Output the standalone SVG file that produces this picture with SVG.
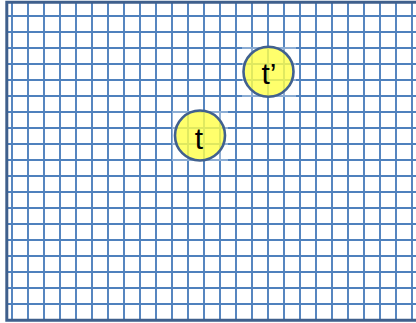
<svg xmlns="http://www.w3.org/2000/svg" width="416" height="323" viewBox="0 0 416 323">
  <style>
    .grid { stroke: #4F81BD; stroke-width: 1.9; fill: none; }
    .frame { stroke: #3F5F8C; stroke-width: 3; fill: none; }
    .halo { fill: #FFFFFF; fill-opacity: 0.35; }
    .node circle { fill: #FFFF33; fill-opacity: 0.72; stroke: #41618F; stroke-width: 2.6; }
    .node text { font-family: "Liberation Sans", Arial, sans-serif; font-size: 30px; fill: #000000; text-anchor: middle; }
  </style>
  <rect x="0" y="0" width="416" height="323" fill="#FFFFFF"/>
  <g id="grid">
    <path class="grid" d="M12 2V320M28 2V320M44 2V320M60 2V320M76 2V320M92 2V320M108 2V320M124 2V320M140 2V320M156 2V320M172 2V320M188 2V320M204 2V320M220 2V320M236 2V320M252 2V320M268 2V320M284 2V320M300 2V320M316 2V320M332 2V320M348 2V320M364 2V320M380 2V320M396 2V320M412 2V320"/>
    <path class="grid" d="M6 16H416M6 32H416M6 48H416M6 64H416M6 80H416M6 96H416M6 112H416M6 128H416M6 144H416M6 160H416M6 176H416M6 192H416M6 208H416M6 224H416M6 240H416M6 256H416M6 272H416M6 288H416M6 304H416"/>
    <path class="frame" d="M420 2.2H6.8V320.3H420"/>
  </g>
  <g id="node-t" class="node">
    <rect class="halo" x="172" y="111" width="56" height="50"/>
    <circle cx="200" cy="135.5" r="25"/>
    <text x="199" y="149">t</text>
  </g>
  <g id="node-t-prime" class="node">
    <rect class="halo" x="242" y="47" width="54" height="50"/>
    <circle cx="268.5" cy="71.7" r="25"/>
    <text x="269" y="84">t’</text>
  </g>
  <g id="connectors"/>
</svg>
